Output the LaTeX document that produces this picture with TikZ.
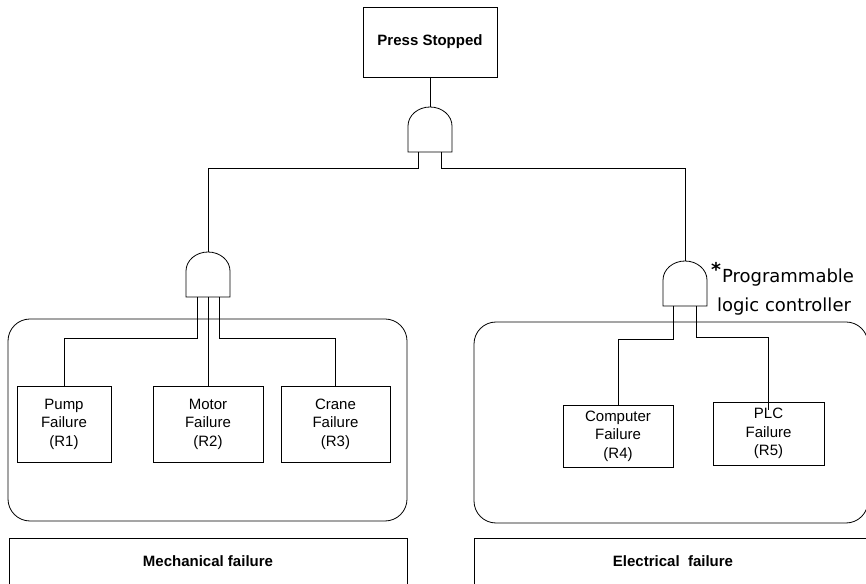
\documentclass[tikz,border=0pt]{standalone}
\usepackage{fontspec}
\setmainfont{Liberation Sans}
\newfontfamily\notefont{DejaVu Sans}
\begin{document}
\begin{tikzpicture}[x=1pt,y=1pt,
  line width=0.8pt,
  every node/.style={inner sep=0pt,outer sep=0pt},
  evbox/.style={draw,rectangle,align=center,font=\fontsize{15}{18.5}\selectfont},
  topbox/.style={draw,rectangle,align=center,font=\fontsize{15}{18}\selectfont\bfseries},
  gatebox/.style={rectangle,minimum width=44pt,minimum height=45pt},
  groupbox/.style={draw,rounded corners=22pt},
  labelbox/.style={draw,rectangle,anchor=north west},
  note/.style={font=\notefont\fontsize{18}{22}\selectfont,anchor=base west},
  conn/.style={draw,line width=0.8pt}
]
\useasboundingbox (0,0) rectangle (866,583);
\newcommand{\drawgate}[1]{\draw (#1.south west) -- ++(0,26) arc[start angle=180,end angle=0,x radius=22,y radius=19] -- (#1.south east) -- cycle;}

% top event
\node[topbox,minimum width=134pt,minimum height=70pt] (top) at (430,541) {Press Stopped};

% gates
\node[gatebox] (g0) at (430,453.5) {};
\node[gatebox] (g1) at (208,308.5) {};
\node[gatebox] (g2) at (685,299.5) {};
\drawgate{g0}
\drawgate{g1}
\drawgate{g2}

% group frames
\draw[groupbox] (8,62) rectangle (407,264);
\draw[groupbox] (474,60) rectangle (868,261);
\node[labelbox,minimum width=398pt,minimum height=55pt] (mech) at (9,45) {};
\node[font=\fontsize{15}{18}\selectfont\bfseries] (mechtxt) at (208,22) {Mechanical failure};
\node[labelbox,minimum width=400pt,minimum height=55pt] (elec) at (474,45) {};
\node[font=\fontsize{15}{18}\selectfont\bfseries] (electxt) at (673,22) {Electrical\ \ failure};

% basic events
\node[evbox,minimum width=94pt,minimum height=76pt] (r1) at (64,159) {Pump\\Failure\\(R1)};
\node[evbox,minimum width=110pt,minimum height=76pt] (r2) at (208,159) {Motor\\Failure\\(R2)};
\node[evbox,minimum width=109pt,minimum height=76pt] (r3) at (335.5,159) {Crane\\Failure\\(R3)};
\node[evbox,minimum width=110pt,minimum height=62pt] (r4) at (618,147) {Computer\\Failure\\(R4)};
\node[evbox,minimum width=111pt,minimum height=63pt] (r5) at (768.5,149.5) {PLC\\Failure\\(R5)};

% annotation
\node[note,font=\notefont\fontsize{19}{22}\selectfont\bfseries] (ast) at (711,306) {*};
\node[note] (plc1) at (722,300) {Programmable};
\node[note] (plc2) at (717,271) {logic controller};

% connectors
\draw[conn] (top.south) -- (g0.north);
\draw[conn] ([xshift=10pt]g0.south west) -- ++(0,-16) -| (g1.north);
\draw[conn] ([xshift=-11pt]g0.south east) -- ++(0,-16) -| (g2.north);
\draw[conn] ([xshift=11pt]g1.south west) -- ++(0,-41) -| (r1.north);
\draw[conn] (g1.south) -- (r2.north);
\draw[conn] ([xshift=-11pt]g1.south east) -- ++(0,-41) -| (r3.north);
\draw[conn] ([xshift=10pt]g2.south west) -- ++(0,-33) -| (r4.north);
\draw[conn] ([xshift=-11pt]g2.south east) -- ++(0,-31) -| ([yshift=-8pt]r5.north);
\end{tikzpicture}
\end{document}
